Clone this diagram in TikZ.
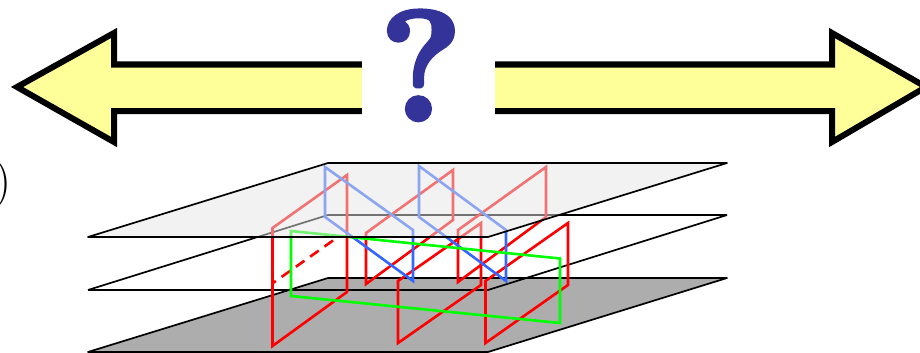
\documentclass[tikz,border=0pt]{standalone}
\usepackage{fontspec}
\newfontfamily\qfont[BoldFeatures={FakeBold=3}]{Latin Modern Roman}
\definecolor{qblue}{HTML}{333399}
\definecolor{arrowfill}{HTML}{FFFF99}
\definecolor{planeblue}{HTML}{3366FF}
\definecolor{floorgray}{HTML}{ADADAD}
\tikzset{
  bigarrow/.style={draw=black,fill=arrowfill,line width=6pt,miter limit=10},
  plane/.style={draw=black,line width=1.7pt,line join=round},
  redrect/.style={draw=red,line width=2.6pt,line join=miter},
  bluerect/.style={draw=planeblue,line width=2.6pt,line join=miter},
  greenrect/.style={draw=green,line width=2.6pt,line join=miter},
}
\begin{document}
\begin{tikzpicture}[x=1pt,y=-1pt]
\useasboundingbox (0,0) rectangle (920,353);
\clip (0,0) rectangle (920,353);
% arrows
\draw[bigarrow] (17,87) -- (114,33) -- (114,64.5) -- (430,64.5) -- (430,111) -- (114,111) -- (114,142) -- cycle;
\draw[bigarrow] (926,87) -- (832,33) -- (832,64.5) -- (430,64.5) -- (430,111) -- (832,111) -- (832,142) -- cycle;
\fill[white] (362,45) rectangle (495,130);
\node[text=qblue,font=\qfont\bfseries\fontsize{156}{156}\selectfont,inner sep=0pt,anchor=base] (q) at (421,120) {?};
\node[font=\fontsize{48}{48}\selectfont,inner sep=0pt,anchor=east] (paren) at (12,185) {)};
% bottom plane
\draw[plane,fill=floorgray] (88,352) -- (328,278) -- (727,278) -- (488,352) -- cycle;
% middle plane
\draw[plane] (88,290) -- (328,215) -- (727,215) (727,215) -- (488,290) -- (88,290);
% red rectangles
\draw[redrect] (272.5,228) -- (347,175) -- (347,292) -- (272.5,346) -- cycle;
\draw[redrect,dash pattern=on 10.5pt off 7pt] (333,240.5) -- (273,283);
\draw[redrect] (366,233) -- (453,170) -- (453,220) -- (366,284) -- cycle;
\draw[redrect] (458,230) -- (546,167) -- (546,217) -- (458,282) -- cycle;
\draw[redrect] (398,281) -- (481,223) -- (481,285) -- (398,343) -- cycle;
\draw[redrect] (485.5,281) -- (568,223) -- (568,285) -- (485.5,343) -- cycle;
% blue rectangles
\draw[bluerect] (325,167) -- (413,230) -- (413,281) -- (325,217) -- cycle;
\draw[bluerect] (419,166) -- (506,230) -- (506,281) -- (419,217) -- cycle;
% green rectangle
\draw[greenrect] (291,231) -- (560,258.5) -- (560,323) -- (291,296) -- cycle;
% top plane
\fill[black!10,opacity=.5] (88,237) -- (328,163) -- (727,163) -- (488,237) -- cycle;
\draw[plane] (88,237) -- (328,163) -- (727,163) -- (488,237) -- cycle;
\end{tikzpicture}
\end{document}
